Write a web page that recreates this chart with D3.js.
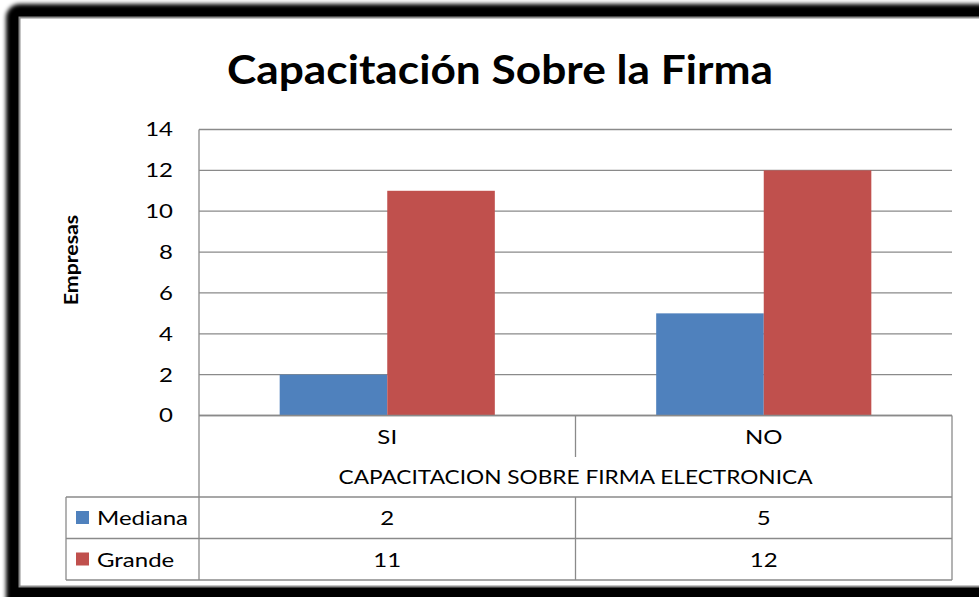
<!DOCTYPE html>
<html>
<head>
<meta charset="utf-8">
<script src="https://cdn.jsdelivr.net/npm/d3@7"></script>
<style>
  html, body { margin: 0; padding: 0; background: #fff; overflow: hidden; }
  text { font-family: Lato, "Open Sans", sans-serif; fill: #000; }
</style>
</head>
<body>
<div class="chart"></div>
<script>
// data
var categories = ["SI", "NO"];
var seriesNames = ["Mediana", "Grande"];
var mediana = [2, 5];
var grande = [11, 12];
var yTicks = [0, 2, 4, 6, 8, 10, 12, 14];
var colors = ["#4F81BD", "#C0504D"];

var width = 979, height = 597;
var plot = {left: 199, right: 952, top: 129.5, bottom: 415.5};
var gridColor = "#8a8a8a";
var sx = 1.2; // the original text is a bit wider than Lato

// widen text horizontally around its own anchor
function stretch(sel) {
  sel.each(function() {
    var t = d3.select(this);
    var x = +t.attr("x") || 0;
    t.attr("x", x / sx)
     .attr("transform", (t.attr("transform") || "") + " scale(" + sx + ",1)");
  });
}

var svg = d3.select(".chart").append("svg")
    .attr("width", width)
    .attr("height", height);

// frame with a dark blurred border
var defs = svg.append("defs");
defs.append("filter").attr("id", "blur")
    .attr("x", "-5%").attr("y", "-5%").attr("width", "110%").attr("height", "110%")
  .append("feGaussianBlur").attr("stdDeviation", 2);

svg.append("rect")
    .attr("x", 6).attr("y", 4)
    .attr("width", 1100).attr("height", 700)
    .attr("rx", 14)
    .attr("fill", "#000")
    .attr("filter", "url(#blur)");

svg.append("rect")
    .attr("x", 19.5).attr("y", 17.5)
    .attr("width", 1000).attr("height", 569)
    .attr("fill", "#fff")
    .attr("stroke", "#8c8c8c")
    .attr("stroke-width", 2);

// title
svg.append("text")
    .attr("x", 500).attr("y", 84)
    .attr("text-anchor", "middle")
    .attr("font-size", 40)
    .attr("font-weight", "bold")
    .attr("textLength", 546)
    .attr("lengthAdjust", "spacingAndGlyphs")
    .text("Capacitación Sobre la Firma");

// scales
var rows = seriesNames.map(function(s, i) {
  return {name: s, values: i === 0 ? mediana : grande, color: colors[i]};
});

var x0 = d3.scaleBand()
    .domain(categories)
    .range([plot.left, plot.right]);

var x1 = d3.scaleBand()
    .domain(seriesNames)
    .range([0, x0.bandwidth()])
    .paddingOuter(0.75);

var y = d3.scaleLinear()
    .domain([0, 14])
    .range([plot.bottom, plot.top]);

// gridlines
svg.append("g").selectAll("line")
    .data(yTicks)
    .enter().append("line")
    .attr("x1", plot.left).attr("x2", plot.right)
    .attr("y1", function(d) { return y(d); })
    .attr("y2", function(d) { return y(d); })
    .attr("stroke", gridColor)
    .attr("stroke-width", 1.3);

// y axis
var yAxis = svg.append("g")
    .attr("transform", "translate(" + plot.left + ",0)")
    .call(d3.axisLeft(y).tickValues(yTicks).tickSize(0).tickPadding(26));
yAxis.select(".domain").remove();
yAxis.selectAll("text")
    .attr("font-size", 20)
    .attr("font-family", "Lato, sans-serif")
    .attr("fill", "#000")
    .call(stretch);

svg.append("text")
    .attr("transform", "translate(78,260) rotate(-90) scale(1.12,1)")
    .attr("text-anchor", "middle")
    .attr("font-size", 19)
    .attr("font-weight", "bold")
    .text("Empresas");

// bars
var groups = svg.append("g").selectAll("g")
    .data(rows)
    .enter().append("g")
    .attr("fill", function(d) { return d.color; });

groups.selectAll("rect")
    .data(function(d) {
      return d.values.map(function(v, i) { return {name: d.name, cat: categories[i], value: v}; });
    })
    .enter().append("rect")
    .attr("x", function(d) { return x0(d.cat) + x1(d.name); })
    .attr("width", x1.bandwidth())
    .attr("y", function(d) { return y(d.value); })
    .attr("height", function(d) { return y(0) - y(d.value); });

// data table below the plot
var tbl = {catBottom: 457, titleBottom: 497, rowH: 41.5, left: 66};
var lines = svg.append("g").attr("stroke", gridColor).attr("stroke-width", 1.3);

// x axis line
lines.append("line")
    .attr("x1", plot.left).attr("x2", plot.right)
    .attr("y1", plot.bottom).attr("y2", plot.bottom);
// left axis line through the whole table
lines.append("line")
    .attr("x1", plot.left).attr("x2", plot.left)
    .attr("y1", plot.top).attr("y2", tbl.titleBottom + rows.length * tbl.rowH);
// right edge of table
lines.append("line")
    .attr("x1", plot.right).attr("x2", plot.right)
    .attr("y1", plot.bottom).attr("y2", tbl.titleBottom + rows.length * tbl.rowH);
// category separators
categories.slice(1).forEach(function(c) {
  lines.append("line")
      .attr("x1", x0(c)).attr("x2", x0(c))
      .attr("y1", plot.bottom).attr("y2", tbl.catBottom);
  lines.append("line")
      .attr("x1", x0(c)).attr("x2", x0(c))
      .attr("y1", tbl.titleBottom).attr("y2", tbl.titleBottom + rows.length * tbl.rowH);
});
// horizontal row lines
d3.range(rows.length + 1).forEach(function(i) {
  var yy = tbl.titleBottom + i * tbl.rowH;
  lines.append("line")
      .attr("x1", tbl.left).attr("x2", plot.right)
      .attr("y1", yy).attr("y2", yy);
});
lines.append("line")
    .attr("x1", tbl.left).attr("x2", tbl.left)
    .attr("y1", tbl.titleBottom).attr("y2", tbl.titleBottom + rows.length * tbl.rowH);

// category labels
svg.append("g").selectAll("text")
    .data(categories)
    .enter().append("text")
    .attr("x", function(d) { return x0(d) + x0.bandwidth() / 2; })
    .attr("y", 444)
    .attr("text-anchor", "middle")
    .attr("font-size", 20)
    .text(function(d) { return d; })
    .call(stretch);

svg.append("text")
    .attr("x", (plot.left + plot.right) / 2)
    .attr("y", 484)
    .attr("text-anchor", "middle")
    .attr("font-size", 20)
    .attr("textLength", 474)
    .attr("lengthAdjust", "spacingAndGlyphs")
    .text("CAPACITACION SOBRE FIRMA ELECTRONICA");

// series rows: legend key, name, values
var tr = svg.append("g").selectAll("g")
    .data(rows)
    .enter().append("g")
    .attr("transform", function(d, i) { return "translate(0," + (tbl.titleBottom + i * tbl.rowH) + ")"; });

tr.append("rect")
    .attr("x", 76).attr("y", 14)
    .attr("width", 13).attr("height", 13)
    .attr("fill", function(d) { return d.color; });

tr.append("text")
    .attr("x", 97).attr("y", 28.5)
    .attr("font-size", 20)
    .text(function(d) { return d.name; })
    .call(stretch);

tr.selectAll("text.val")
    .data(function(d) { return d.values; })
    .enter().append("text")
    .attr("class", "val")
    .attr("x", function(d, i) { return x0(categories[i]) + x0.bandwidth() / 2; })
    .attr("y", 28.5)
    .attr("text-anchor", "middle")
    .attr("font-size", 20)
    .text(function(d) { return d; })
    .call(stretch);
</script>
</body>
</html>
